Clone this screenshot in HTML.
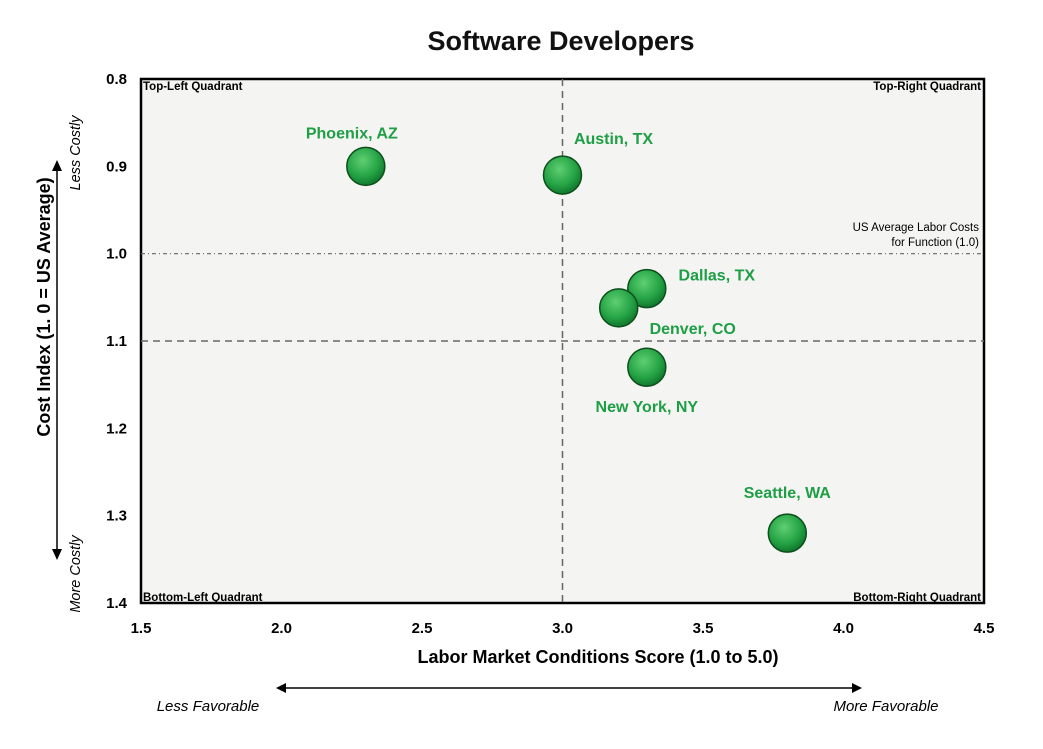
<!DOCTYPE html>
<html><head><meta charset="utf-8"><style>
body{margin:0;background:#fff;}
svg{display:block;font-family:"Liberation Sans",sans-serif;}
</style></head><body>
<svg id="c" width="1043" height="749" viewBox="0 0 1043 749">
<defs>
<radialGradient id="g" cx="42%" cy="35%" r="65%">
<stop offset="0" stop-color="#5fcf72"/><stop offset="0.65" stop-color="#24a345"/><stop offset="1" stop-color="#11782c"/>
</radialGradient>
</defs>
<text x="561" y="50" text-anchor="middle" font-size="27" font-weight="bold" fill="#111">Software Developers</text>
<rect x="141" y="79" width="843" height="524" fill="#f4f4f2" stroke="#000" stroke-width="2.5"/>
<g id="grid"></g>
<g id="ticks"></g>
<text x="143" y="90" font-size="11.5" font-weight="bold">Top-Left Quadrant</text>
<text x="981" y="90" font-size="11.5" font-weight="bold" text-anchor="end">Top-Right Quadrant</text>
<text x="143" y="601" font-size="11.5" font-weight="bold">Bottom-Left Quadrant</text>
<text x="981" y="601" font-size="11.5" font-weight="bold" text-anchor="end">Bottom-Right Quadrant</text>
<text x="979" y="231" font-size="11.5" text-anchor="end">US Average Labor Costs</text>
<text x="979" y="246" font-size="11.5" text-anchor="end">for Function (1.0)</text>
<g id="points"></g>
<text x="598" y="663" text-anchor="middle" font-size="18" font-weight="bold">Labor Market Conditions Score (1.0 to 5.0)</text>
<text transform="translate(50,307) rotate(-90)" text-anchor="middle" font-size="18" font-weight="bold">Cost Index (1. 0 = US Average)</text>
<g>
<line x1="282" y1="688" x2="856" y2="688" stroke="#000" stroke-width="1.5"/>
<polygon points="276,688 286,683 286,693"/><polygon points="862,688 852,683 852,693"/>
</g>
<text x="208" y="711" text-anchor="middle" font-size="15" font-style="italic">Less Favorable</text>
<text x="886" y="711" text-anchor="middle" font-size="15" font-style="italic">More Favorable</text>
<g>
<line x1="57" y1="168" x2="57" y2="552" stroke="#000" stroke-width="1.5"/>
<polygon points="57,160 52,171 62,171"/><polygon points="57,560 52,549 62,549"/>
</g>
<text transform="translate(80,153) rotate(-90)" text-anchor="middle" font-size="14.5" font-style="italic">Less Costly</text>
<text transform="translate(80,574) rotate(-90)" text-anchor="middle" font-size="14.5" font-style="italic">More Costly</text>
</svg>
<script>
const cities=["Phoenix, AZ","Austin, TX","Dallas, TX","Denver, CO","New York, NY","Seattle, WA"];
const scores=[2.3,3.0,3.3,3.2,3.3,3.8];
const costs=[0.90,0.91,1.04,1.062,1.13,1.32];
const xTicks=[1.5,2.0,2.5,3.0,3.5,4.0,4.5];
const yTicks=[0.8,0.9,1.0,1.1,1.2,1.3,1.4];
const labelDx=[-14,51,70,74,0,0];
const labelDy=[-28,-31,-8,26,45,-35];
const X=v=>141+(v-1.5)/3*843;
const Y=v=>79+(v-0.8)/0.6*524;
const NS="http://www.w3.org/2000/svg";
function mk(t,a,p){const e=document.createElementNS(NS,t);for(const k in a)e.setAttribute(k,a[k]);p.appendChild(e);return e;}
const grid=document.getElementById('grid'),ticks=document.getElementById('ticks'),pts=document.getElementById('points');
let l=mk('line',{x1:X(3),x2:X(3),y1:79,y2:603,stroke:'#666','stroke-width':1.5,'stroke-dasharray':'7,5'},grid);


l=mk('line',{x1:141,x2:984,y1:Y(1.1),y2:Y(1.1),stroke:'#666','stroke-width':1.5,'stroke-dasharray':'7,5'},grid);


l=mk('line',{x1:141,x2:984,y1:Y(1.0),y2:Y(1.0),stroke:'#666','stroke-width':1.2,'stroke-dasharray':'4,3,1,3'},grid);


xTicks.forEach(v=>{const t=mk('text',{x:X(v),y:633,'text-anchor':'middle','font-size':15,'font-weight':'bold'},ticks);t.textContent=v.toFixed(1);

});
yTicks.forEach(v=>{const t=mk('text',{x:127,y:Y(v)+5,'text-anchor':'end','font-size':15,'font-weight':'bold'},ticks);t.textContent=v.toFixed(1);

});
cities.forEach((c,i)=>{const cx=X(scores[i]),cy=Y(costs[i]);
const e=mk('circle',{cx:cx,cy:cy,r:19,fill:'url(#g)',stroke:'#0d4f1c','stroke-width':1.5},pts);


const t=mk('text',{x:cx+labelDx[i],y:cy+labelDy[i],'text-anchor':'middle','font-size':16,'font-weight':'bold',fill:'#1e9e45'},pts);t.textContent=c;

});
</script>
</body></html>
